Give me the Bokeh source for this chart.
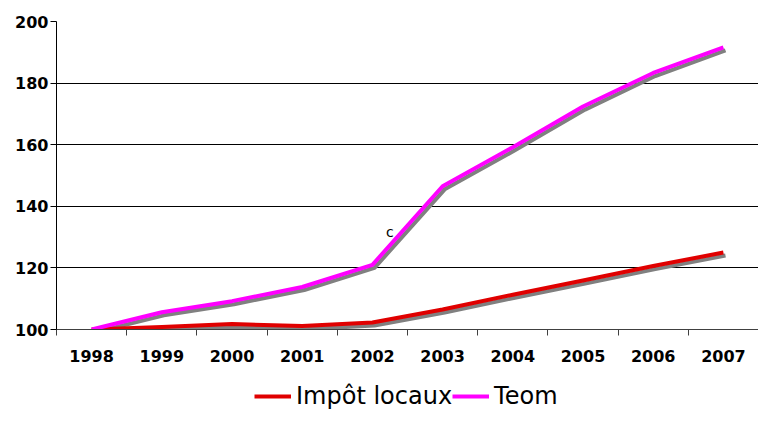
from bokeh.plotting import figure
from bokeh.models import Range1d, FixedTicker, Legend, LegendItem
from bokeh.layouts import column
from bokeh.core.properties import value
from bokeh.embed import file_html
from bokeh.resources import INLINE

years = ["1998", "1999", "2000", "2001", "2002", "2003", "2004", "2005", "2006", "2007"]
impot_locaux = [100.0, 100.8, 101.8, 101.1, 102.3, 106.5, 111.3, 115.9, 120.6, 125.0]
teom = [100.0, 105.6, 109.2, 113.8, 121.0, 146.5, 159.2, 172.4, 183.3, 191.6]
y_ticks = [100, 120, 140, 160, 180, 200]
series_names = ["Impôt locaux", "Teom"]
series_colors = ["#e00000", "#ff00ff"]
note_text = ["c"]
note_x = [4.25]
note_y = [131.8]

FONT = "DejaVu Sans"
idx = list(range(len(years)))

p = figure(width=758, height=370, output_backend="svg", toolbar_location=None,
           x_range=Range1d(-0.5, len(years) - 0.5), y_range=Range1d(100, 200),
           min_border_left=56, min_border_right=0, min_border_top=21, min_border_bottom=41)
p.outline_line_color = None
p.background_fill_color = "white"
p.border_fill_color = "white"

# shadows (screen offset approximations)
sx = 0.03
sy = 1.0
p.line([i + sx for i in idx], [v - sy for v in teom], line_color="#808080", line_width=4, line_join="round")
p.line([i + sx for i in idx], [v - sy for v in impot_locaux], line_color="#808080", line_width=4, line_join="round")
p.line(idx, impot_locaux, line_color=series_colors[0], line_width=4, line_join="round")
p.line(idx, teom, line_color=series_colors[1], line_width=4, line_join="round")

p.text(x=note_x, y=note_y, text=note_text, text_font=value(FONT), text_font_size="14px",
       text_align="center", text_baseline="middle", text_color="black")

# axes
p.xgrid.visible = False
p.ygrid.ticker = FixedTicker(ticks=y_ticks)
p.ygrid.grid_line_color = "black"
p.ygrid.grid_line_width = 1

p.yaxis.ticker = FixedTicker(ticks=y_ticks)
p.yaxis.axis_line_color = "black"
p.yaxis.major_tick_line_color = "black"
p.yaxis.major_tick_out = 6
p.yaxis.major_tick_in = 0
p.yaxis.minor_tick_line_color = None
p.yaxis.major_label_standoff = 2
p.yaxis.major_label_text_font = FONT
p.yaxis.major_label_text_font_style = "bold"
p.yaxis.major_label_text_font_size = "16px"
p.yaxis.major_label_text_color = "black"

p.xaxis.ticker = FixedTicker(ticks=idx, minor_ticks=[i - 0.5 for i in range(len(years) + 1)])
p.xaxis.major_label_overrides = {i: y for i, y in zip(idx, years)}
p.xaxis.axis_line_color = "#404040"
p.xaxis.major_tick_line_color = None
p.xaxis.minor_tick_line_color = "#404040"
p.xaxis.minor_tick_out = 6
p.xaxis.minor_tick_in = 0
p.xaxis.major_label_standoff = 14
p.xaxis.major_label_text_font = FONT
p.xaxis.major_label_text_font_style = "bold"
p.xaxis.major_label_text_font_size = "16px"
p.xaxis.major_label_text_color = "black"

# legend strip (proxy lines lie outside the strip's visible range)
p2 = figure(width=758, height=44, output_backend="svg", toolbar_location=None,
            x_axis_type=None, y_axis_type=None, x_range=Range1d(0, 1), y_range=Range1d(0, 1),
            min_border=0)
p2.outline_line_color = None
p2.grid.visible = False
leg_r = [p2.line([-3, -2], [-3, -2], line_color=c, line_width=4) for c in series_colors]
legend = Legend(items=[LegendItem(label=n, renderers=[r]) for n, r in zip(series_names, leg_r)],
                orientation="horizontal", location=(198, 4),
                label_text_font=FONT, label_text_font_size="24px", label_text_color="black",
                glyph_width=37, glyph_height=20, label_standoff=5, spacing=0,
                border_line_color=None, background_fill_alpha=0, padding=0, margin=0)
p2.add_layout(legend, "center")

layout = column(p, p2, spacing=0)
open("out.html", "w").write(file_html(layout, INLINE))
